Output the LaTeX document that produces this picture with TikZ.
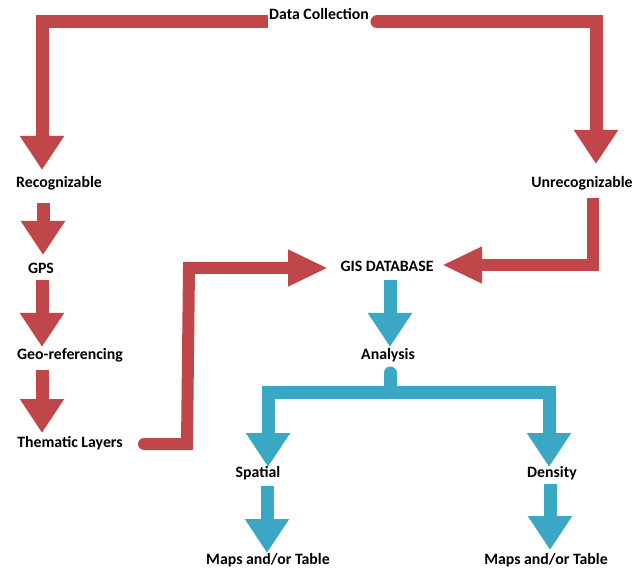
\documentclass[tikz,border=0pt]{standalone}
\usepackage{fontspec}
\setmainfont{Carlito}
\usetikzlibrary{arrows.meta}
\definecolor{rdc}{HTML}{C0464A}
\definecolor{blc}{HTML}{3AA8C5}
\tikzset{
  lbl/.style={font=\bfseries\fontsize{15.8}{18}\selectfont, inner sep=1pt, text=black},
  blk/.style={line width=13pt, line join=miter, -{Triangle[length=34pt,width=42pt]}},
  blkside/.style={line width=12pt, line join=miter, -{Triangle[length=40pt,width=34pt]}},
  redarr/.style={blk, draw=rdc},
  redside/.style={blkside, draw=rdc},
  bluearr/.style={blk, draw=blc},
  bluebar/.style={line width=13pt, line join=miter, draw=blc},
}
\begin{document}
\begin{tikzpicture}[x=1pt,y=-1pt]
\useasboundingbox (0,0) rectangle (640,569);
% labels
\node[lbl] (dc) at (319,14) {Data Collection};
\node[lbl] (rec) at (59,183) {Recognizable};
\node[lbl] (unrec) at (582,183) {Unrecognizable};
\node[lbl] (gps) at (41,268) {GPS};
\node[lbl] (geo) at (70,355) {Geo-referencing};
\node[lbl] (them) at (70,443) {Thematic Layers};
\node[lbl] (gis) at (387,266) {GIS DATABASE};
\node[lbl] (ana) at (388,355) {Analysis};
\node[lbl] (spa) at (258,473) {Spatial};
\node[lbl] (den) at (552,473) {Density};
\node[lbl] (map1) at (268,560) {Maps and/or Table};
\node[lbl] (map2) at (546,560) {Maps and/or Table};
% coordinates
\coordinate (dcL) at (dc.west |- 0,22);
\coordinate (dcR) at (377,22);
\coordinate (recT) at (42,170);
\coordinate (unrT) at (596,164);
\coordinate (unrB) at (593,198);
\coordinate (gisR) at (442,265);
\coordinate (gisL) at (328,268);
\coordinate (thR) at (144,444);
\coordinate (anaB) at (390,373);
\coordinate (split) at (390,392);
\coordinate (spaT) at (268,467);
\coordinate (denT) at (549,467);
% red connectors
\draw[redarr] (dcL) -| (recT);
\draw[redarr, line cap=round] (dcR) -| (unrT);
\draw[redside] (unrB) |- (gisR);
\draw[redside, line cap=round] (thR) -- (187,444) -- (189,268) -- (gisL);
\draw[redarr] (43,203) -- (43,255);
\draw[redarr] (42,280) -- (42,347);
\draw[redarr] (42,370) -- (42,433);
% blue connectors
\draw[bluearr] (390,280) -- (390,347);
\draw[bluebar, line cap=round] (anaB) -- (split);
\draw[bluearr] (split) -| (spaT);
\draw[bluearr] (split) -| (denT);
\draw[bluearr] (267,486) -- (267,553);
\draw[bluearr] (550,484) -- (550,550);
\end{tikzpicture}
\end{document}
